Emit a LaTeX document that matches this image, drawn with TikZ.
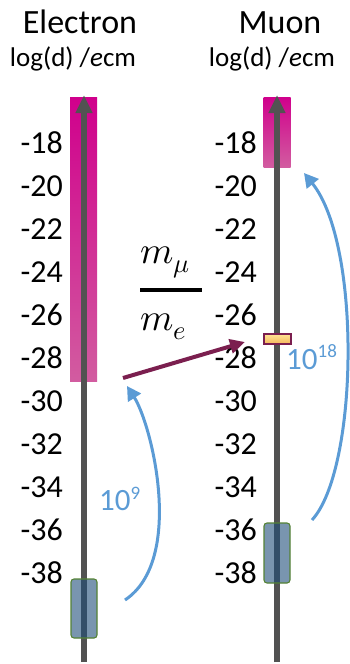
\documentclass[tikz,border=0pt]{standalone}
\usepackage{fontspec}
\usepackage{unicode-math}
\setmainfont{Carlito}
\setmathfont{Latin Modern Math}
\usetikzlibrary{arrows.meta}
\definecolor{axisgray}{RGB}{82,82,82}
\definecolor{mymaroon}{RGB}{123,31,79}
\definecolor{skyblue}{RGB}{91,155,213}
\definecolor{boxblue}{RGB}{31,78,121}
\definecolor{boxgreen}{RGB}{84,130,53}
\definecolor{magtop}{RGB}{208,0,140}
\definecolor{magbot}{RGB}{210,92,160}
\definecolor{yeltop}{RGB}{255,230,150}
\definecolor{yelbot}{RGB}{245,185,95}
\begin{document}
\begin{tikzpicture}[x=1pt,y=-1pt,
  magbar/.style={rectangle,inner sep=0pt,top color=magtop,bottom color=magbot,draw=none,minimum width=27pt},
  axisline/.style={line width=6pt,draw=axisgray,-{Triangle[length=18pt,width=16pt]}},
  bluebox/.style={rectangle,rounded corners=3pt,inner sep=0pt,fill=boxblue,fill opacity=0.6,draw=boxgreen,line width=1.1pt,minimum width=26pt},
  yelbox/.style={rectangle,inner sep=0pt,top color=yeltop,bottom color=yelbot,draw=mymaroon,line width=2pt,minimum width=27pt,minimum height=10pt},
  bluearc/.style={line width=3pt,draw=skyblue,-{Triangle[length=14pt,width=15pt]}},
  ratioarrow/.style={line width=4pt,draw=mymaroon,-{Triangle[length=15pt,width=14pt]}},
  title/.style={inner sep=0pt,anchor=base,font=\fontsize{34}{40}\selectfont},
  subtitle/.style={inner sep=0pt,anchor=base,font=\fontsize{27}{32}\selectfont},
  ticklab/.style={inner sep=0pt,anchor=east,font=\fontsize{32}{38}\selectfont},
  factor/.style={inner sep=0pt,anchor=base west,text=skyblue,font=\fontsize{31}{36}\selectfont},
  mathlab/.style={inner sep=0pt,anchor=base west,font=\fontsize{38}{44}\selectfont}]
\useasboundingbox (0,0) rectangle (349,664);

% magenta ranges
\node[magbar,minimum height=284pt] (emag) at (83.5,239) {};
\node[magbar,minimum height=70pt] (mmag) at (277,132) {};

% axes
\coordinate (ebot) at (84,662);
\coordinate (etop) at (84,95);
\coordinate (mbot) at (277,662);
\coordinate (mtop) at (277,95);
\draw[axisline] (ebot) -- (etop);
\draw[axisline] (mbot) -- (mtop);

% blue boxes
\node[bluebox,minimum height=59pt] (ebox) at (84,608.5) {};
\node[bluebox,minimum height=60pt] (mbox) at (277,553) {};

% yellow marker
\node[yelbox] (ymark) at (277,338.5) {};

% ticks
\foreach \v [count=\i from 0] in {18,20,...,38} {
  \node[ticklab] (et\v) at (63,{143+43*\i}) {-\v};
  \node[ticklab] (mt\v) at (257,{143+43*\i}) {-\v};
}

% titles
\node[title] (etitle) at (80,33) {Electron};
\node[title] (mtitle) at (280,33) {Muon};
\node[subtitle] (esub) at (73,66) {log(d) /\textit{e}cm};
\node[subtitle] (msub) at (272,66) {log(d) /\textit{e}cm};

% ratio
\node[mathlab] (num) at (140,263) {$m_\mu$};
\node[mathlab] (den) at (140,330) {$m_e$};
\coordinate (barl) at (140,289.5);
\coordinate (barr) at (202,289.5);
\draw[line width=4pt] (barl) -- (barr);

% maroon arrow
\coordinate (ras) at (123,378);
\coordinate (rae) at (245,342);
\draw[ratioarrow] (ras) -- (rae);

% blue arcs
\coordinate (e9s) at (125,600);
\coordinate (e9e) at (127,386);
\draw[bluearc] (e9s) .. controls (185,560) and (152,425) .. (e9e);
\coordinate (m18s) at (312,520);
\coordinate (m18e) at (304,173);
\draw[bluearc] (m18s) .. controls (358,470) and (362,245) .. (m18e);

% factors
\node[factor] (f9) at (99,510) {10\raisebox{11pt}{\fontsize{19}{22}\selectfont 9}};
\node[factor] (f18) at (286,369) {10\raisebox{12pt}{\fontsize{19}{22}\selectfont 18}};
\end{tikzpicture}
\end{document}
